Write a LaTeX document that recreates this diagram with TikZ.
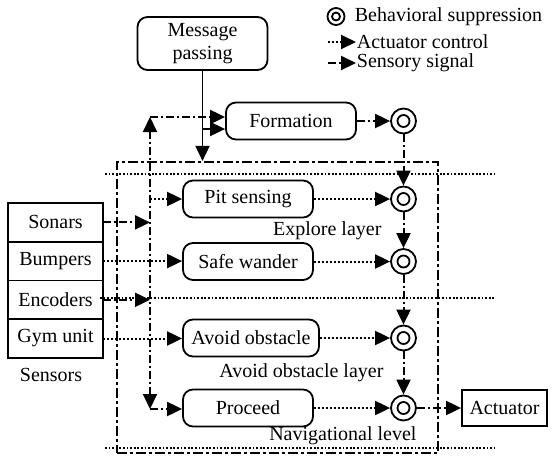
\documentclass[tikz,border=0pt]{standalone}
\usepackage{fontspec}
\setmainfont{Liberation Serif}
\usetikzlibrary{positioning,arrows.meta}

\begin{document}
\begin{tikzpicture}[
    x=0.5pt, y=-0.5pt,
    font=\fontsize{10}{11.5}\selectfont,
    node distance=0pt,
    line width=0.9pt,
    >={Triangle[length=7.5pt,width=7pt]},
    box/.style={
        draw,
        rounded corners=5pt,
        align=center,
        minimum width=65pt,
        minimum height=18.5pt,
        inner sep=1pt
    },
    sensor/.style={
        draw,
        minimum width=47.5pt,
        minimum height=19.35pt,
        outer sep=0pt,
        inner sep=1pt
    },
    supp/.style={
        draw,
        circle,
        minimum size=12.5pt,
        inner sep=0pt,
        path picture={\draw (path picture bounding box.center) circle (3pt);}
    },
    smallsupp/.style={
        draw,
        circle,
        minimum size=8.5pt,
        inner sep=0pt,
        path picture={\draw (path picture bounding box.center) circle (2pt);}
    },
    arrow/.style={->},
    actuator/.style={->, line width=1pt, dash pattern=on 1.2pt off 0.8pt},
    sensory/.style={->, line width=1pt, dash pattern=on 4pt off 1.5pt on 1pt off 1.5pt},
    level/.style={
        draw,
        line width=1.1pt,
        dash pattern=on 5pt off 1.5pt on 1.5pt off 1.5pt,
        minimum width=160.5pt,
        minimum height=145.5pt
    },
    layer/.style={line width=1pt, dash pattern=on 0.9pt off 0.9pt}
]
\useasboundingbox (0,0) rectangle (552,456);

% behaviours
\node[box, minimum height=26.5pt] (msg) at (202.5,43.5) {Message\\passing};
\node[box] (form) at (291,121) {Formation};
\node[box] (pit) at (248,199) {Pit sensing};
\node[box] (wander) at (248,261.5) {Safe wander};
\node[box, minimum width=68pt] (avoid) at (251,338) {Avoid obstacle};
\node[box] (proc) at (248,408) {Proceed};
\node[draw, minimum width=42.5pt, minimum height=18.3pt] (act) at (504.5,408) {Actuator};

\node[level] (nav) at (277.5,307.5) {};

% suppression points
\node[supp] (s1) at (403.5,121) {};
\node[supp] (s2) at (403.5,199) {};
\node[supp] (s3) at (403.5,261.5) {};
\node[supp] (s4) at (403.5,338) {};
\node[supp] (s5) at (403.5,408) {};

% sensors
\node[sensor] (sonar) at (55.5,222.4) {Sonars};
\node[sensor, below=of sonar] (bumper) {Bumpers};
\node[sensor, below=of bumper] (encoder) {Encoders};
\node[sensor, below=of encoder] (gym) {Gym unit};
\node (sensors) at (51,375) {Sensors};

% layer names
\node[anchor=east] (explore) at (389,231) {Explore layer};
\node[anchor=east] (avoidlayer) at (391,373) {Avoid obstacle layer};
\node[anchor=east] (navlevel) at (424,436) {Navigational level};

% legend
\node[smallsupp] (lgsupp) at (336,16.5) {};
\node[anchor=west, inner sep=0pt] (lgsupptext) at (354,16.5) {Behavioral suppression};
\node[anchor=west, inner sep=0pt] (lgact) at (356,42) {Actuator control};
\node[anchor=west, inner sep=0pt] (lgsens) at (356,63) {Sensory signal};
\coordinate (lgactstart) at (328,42);
\coordinate (lgsensstart) at (328,63);

\coordinate (hubtop) at (150,117);
\coordinate (hubbot) at (150,409);
\coordinate (branch) at (202.5,129);

% layer borders
\draw[layer] (105,174) -- (495,174);
\draw[layer] (100,298) -- (495,298);
\draw[layer] (105,448) -- (495,448);

% message passing
\draw[arrow] (msg.south) -- (msg.south |- nav.north);
\draw[arrow] (branch) -- (branch -| form.west);

% sensory signals
\draw[sensory, <->] (hubbot) -- (hubtop);
\draw[sensory] (hubtop) -- (hubtop -| form.west);
\draw[sensory] (hubbot) -- (hubbot -| proc.west);
\draw[sensory] (sonar.east) -- (sonar.east -| hubtop);
\draw[sensory] (encoder.east) -- (encoder.east -| hubtop);

% actuator control
\draw[actuator] (hubtop |- pit.west) -- (pit.west);
\draw[actuator] (bumper.east) -- (bumper.east -| wander.west);
\draw[actuator] (gym.east) -- (gym.east -| avoid.west);

\draw[sensory] (form) -- (s1);
\draw[actuator] (pit) -- (s2);
\draw[actuator] (wander) -- (s3);
\draw[actuator] (avoid) -- (s4);
\draw[actuator] (proc) -- (s5);

\draw[sensory] (s1) -- (s2);
\draw[sensory] (s2) -- (s3);
\draw[sensory] (s3) -- (s4);
\draw[sensory] (s4) -- (s5);
\draw[sensory] (s5) -- (act);

\draw[actuator] (lgactstart) -- (lgact.west);
\draw[sensory] (lgsensstart) -- (lgsens.west);

\end{tikzpicture}
\end{document}
